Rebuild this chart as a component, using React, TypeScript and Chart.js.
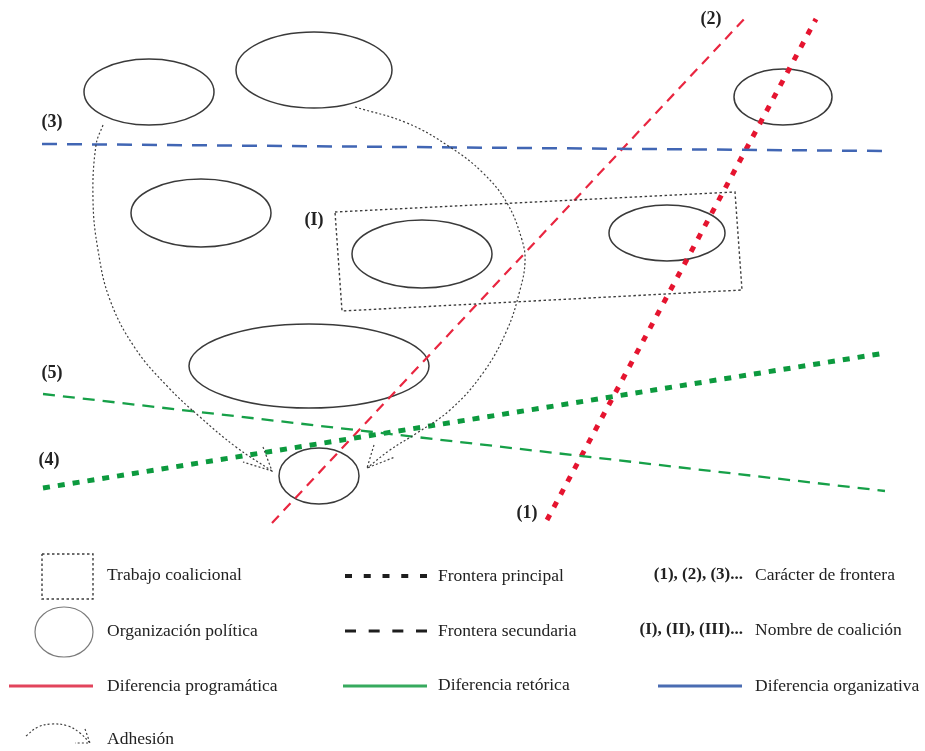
import React, { useEffect, useRef } from "react";
import { Chart, registerables } from "chart.js";

Chart.register(...registerables);

const W = 925;
const H = 751;

// Organizaciones políticas (ellipses): centre and radii
const ORG_CX = [149, 314, 201, 422, 667, 783, 309, 319];
const ORG_CY = [92, 70, 213, 254, 233, 97, 366, 476];
const ORG_RX = [65, 78, 70, 70, 58, 49, 120, 40];
const ORG_RY = [33, 38, 34, 34, 28, 28, 42, 28];

// Fronteras
const F1_X = [547, 816];
const F1_Y = [520, 19];
const F2_X = [272, 746];
const F2_Y = [523, 17];
const F3_X = [42, 885];
const F3_Y = [144, 151];
const F4_X = [43, 885];
const F4_Y = [488, 353];
const F5_X = [43, 885];
const F5_Y = [394, 491];

// Coalición (I)
const COAL_X = [335, 735, 742, 342, 335];
const COAL_Y = [212, 192, 290, 311, 212];

// Adhesión curves and arrow heads
const ADH_L_X = [103, 96, 93, 98, 110, 135, 168, 200, 236, 272];
const ADH_L_Y = [125, 145, 200, 250, 300, 348, 387, 417, 447, 471];
const ADH_L_HEAD_X = [263, 272, 243];
const ADH_L_HEAD_Y = [447, 471, 462];
const ADH_R_X = [355, 407, 450, 483, 507, 522, 525, 520, 507, 483, 450, 417, 390, 367];
const ADH_R_Y = [107, 123, 147, 173, 203, 240, 262, 290, 330, 373, 410, 433, 450, 468];
const ADH_R_HEAD_X = [374, 367, 395];
const ADH_R_HEAD_Y = [445, 468, 457];

// Frontier labels
const LBL_TEXT = ["(1)", "(2)", "(3)", "(4)", "(5)", "(I)"];
const LBL_X = [527, 711, 52, 49, 52, 314];
const LBL_Y = [513, 19, 122, 460, 373, 220];

// Legend
const LEG1_TEXT = ["Trabajo coalicional", "Organización política", "Diferencia programática", "Adhesión"];
const LEG1_Y = [575, 631, 686, 739];
const LEG2_TEXT = ["Frontera principal", "Frontera secundaria", "Diferencia retórica"];
const LEG2_Y = [576, 631, 685];
const LEG3_KEY = ["(1), (2), (3)...", "(I), (II), (III)..."];
const LEG3_KEY_Y = [575, 630];
const LEG3_TEXT = ["Carácter de frontera", "Nombre de coalición", "Diferencia organizativa"];
const LEG3_Y = [575, 630, 686];
const LEG_COL_X = [107, 438, 755];
const LEG_KEY_RIGHT = 743;

const LEG_SQ_X = [42, 93, 93, 42, 42];
const LEG_SQ_Y = [554, 554, 599, 599, 554];
const LEG_ELL = [64, 632, 29, 25];
const LEG_PRIN_X = [345, 427];
const LEG_PRIN_Y = [576, 576];
const LEG_SEC_X = [345, 427];
const LEG_SEC_Y = [631, 631];
const LEG_RED_X = [9, 93];
const LEG_GREEN_X = [343, 427];
const LEG_BLUE_X = [658, 742];
const LEG_ROW3_Y = [686, 686];
const LEG_ADH_X = [26, 38, 52, 68, 80, 90];
const LEG_ADH_Y = [736, 727, 724, 726, 733, 743];
const LEG_ADH_HEAD_X = [85, 90, 75];
const LEG_ADH_HEAD_Y = [729, 743, 743];

const pts = (xs: number[], ys: number[]) => xs.map((x, i) => ({ x, y: ys[i] }));

const line = (
  xs: number[],
  ys: number[],
  color: string,
  width: number,
  dash: number[],
  tension = 0,
  cap: CanvasLineCap = "butt"
) => ({
  data: pts(xs, ys),
  showLine: true,
  pointRadius: 0,
  pointHoverRadius: 0,
  borderColor: color,
  borderWidth: width,
  borderDash: dash,
  borderCapStyle: cap,
  tension,
  fill: false,
});

const DOT = "#3d3d3d";

const diagramPlugin = {
  id: "diagram",
  beforeDatasetsDraw(chart: any) {
    const { ctx, scales } = chart;
    const sx = scales.x;
    const sy = scales.y;
    const ell = (cx: number, cy: number, rx: number, ry: number) => {
      const px = sx.getPixelForValue(cx);
      const py = sy.getPixelForValue(cy);
      const prx = Math.abs(sx.getPixelForValue(cx + rx) - px);
      const pry = Math.abs(sy.getPixelForValue(cy + ry) - py);
      ctx.beginPath();
      ctx.ellipse(px, py, prx, pry, 0, 0, Math.PI * 2);
      ctx.stroke();
    };
    ctx.save();
    ctx.strokeStyle = "#3a3a3a";
    ctx.lineWidth = 1.5;
    ORG_CX.forEach((cx, i) => ell(cx, ORG_CY[i], ORG_RX[i], ORG_RY[i]));
    ctx.strokeStyle = "#7a7a7a";
    ctx.lineWidth = 1.2;
    ell(LEG_ELL[0], LEG_ELL[1], LEG_ELL[2], LEG_ELL[3]);
    ctx.restore();
  },
  afterDatasetsDraw(chart: any) {
    const { ctx, scales } = chart;
    const sx = scales.x;
    const sy = scales.y;
    ctx.save();
    ctx.fillStyle = "#222";
    ctx.textBaseline = "middle";
    ctx.font = "bold 18px 'Liberation Serif', serif";
    ctx.textAlign = "center";
    LBL_TEXT.forEach((t, i) => ctx.fillText(t, sx.getPixelForValue(LBL_X[i]), sy.getPixelForValue(LBL_Y[i])));
    ctx.font = "17.5px 'Liberation Serif', serif";
    ctx.textAlign = "left";
    LEG1_TEXT.forEach((t, i) => ctx.fillText(t, sx.getPixelForValue(LEG_COL_X[0]), sy.getPixelForValue(LEG1_Y[i])));
    LEG2_TEXT.forEach((t, i) => ctx.fillText(t, sx.getPixelForValue(LEG_COL_X[1]), sy.getPixelForValue(LEG2_Y[i])));
    LEG3_TEXT.forEach((t, i) => ctx.fillText(t, sx.getPixelForValue(LEG_COL_X[2]), sy.getPixelForValue(LEG3_Y[i])));
    ctx.font = "bold 17px 'Liberation Serif', serif";
    ctx.textAlign = "right";
    LEG3_KEY.forEach((t, i) => ctx.fillText(t, sx.getPixelForValue(LEG_KEY_RIGHT), sy.getPixelForValue(LEG3_KEY_Y[i])));
    ctx.restore();
  },
};

export default function App() {
  const ref = useRef<HTMLCanvasElement | null>(null);
  useEffect(() => {
    if (!ref.current) return;
    const chart = new Chart(ref.current, {
      type: "scatter",
      data: {
        datasets: [
          line(COAL_X, COAL_Y, DOT, 1.4, [2.5, 2.5]),
          line(ADH_L_X, ADH_L_Y, DOT, 1.2, [2, 2.2], 0.4),
          line(ADH_L_HEAD_X, ADH_L_HEAD_Y, DOT, 1.2, [2, 2.2]),
          line(ADH_R_X, ADH_R_Y, DOT, 1.2, [2, 2.2], 0.4),
          line(ADH_R_HEAD_X, ADH_R_HEAD_Y, DOT, 1.2, [2, 2.2]),
          line(F3_X, F3_Y, "#4166b4", 2.5, [15, 10]),
          line(F5_X, F5_Y, "#16a048", 2.3, [12, 8]),
          line(F4_X, F4_Y, "#0c9a3e", 5, [7, 8]),
          line(F2_X, F2_Y, "#e92640", 2.2, [10, 7]),
          line(F1_X, F1_Y, "#e5142f", 5, [6, 8.5]),
          // legend icons
          line(LEG_SQ_X, LEG_SQ_Y, DOT, 1.4, [2.5, 2.5]),
          line(LEG_PRIN_X, LEG_PRIN_Y, "#1e1e1e", 4, [7, 11.75]),
          line(LEG_SEC_X, LEG_SEC_Y, "#1e1e1e", 3, [11, 12.67]),
          line(LEG_RED_X, LEG_ROW3_Y, "#e2445c", 3, []),
          line(LEG_GREEN_X, LEG_ROW3_Y, "#37aa5e", 3, []),
          line(LEG_BLUE_X, LEG_ROW3_Y, "#4a6cb2", 3, []),
          line(LEG_ADH_X, LEG_ADH_Y, DOT, 1.2, [2, 2.2], 0.4),
          line(LEG_ADH_HEAD_X, LEG_ADH_HEAD_Y, DOT, 1.2, [2, 2.2]),
        ],
      },
      options: {
        animation: false,
        responsive: false,
        maintainAspectRatio: false,
        devicePixelRatio: 1,
        layout: { padding: 0 },
        events: [],
        scales: {
          x: { type: "linear", min: 0, max: W, display: false },
          y: { type: "linear", min: 0, max: H, reverse: true, display: false },
        },
        plugins: {
          legend: { display: false },
          tooltip: { enabled: false },
        },
      },
      plugins: [diagramPlugin],
    } as any);
    return () => chart.destroy();
  }, []);
  return (
    <div style={{ position: "absolute", left: 0, top: 0, width: W, height: H, background: "#fff" }}>
      <canvas ref={ref} width={W} height={H} style={{ width: W, height: H, display: "block" }} />
    </div>
  );
}
